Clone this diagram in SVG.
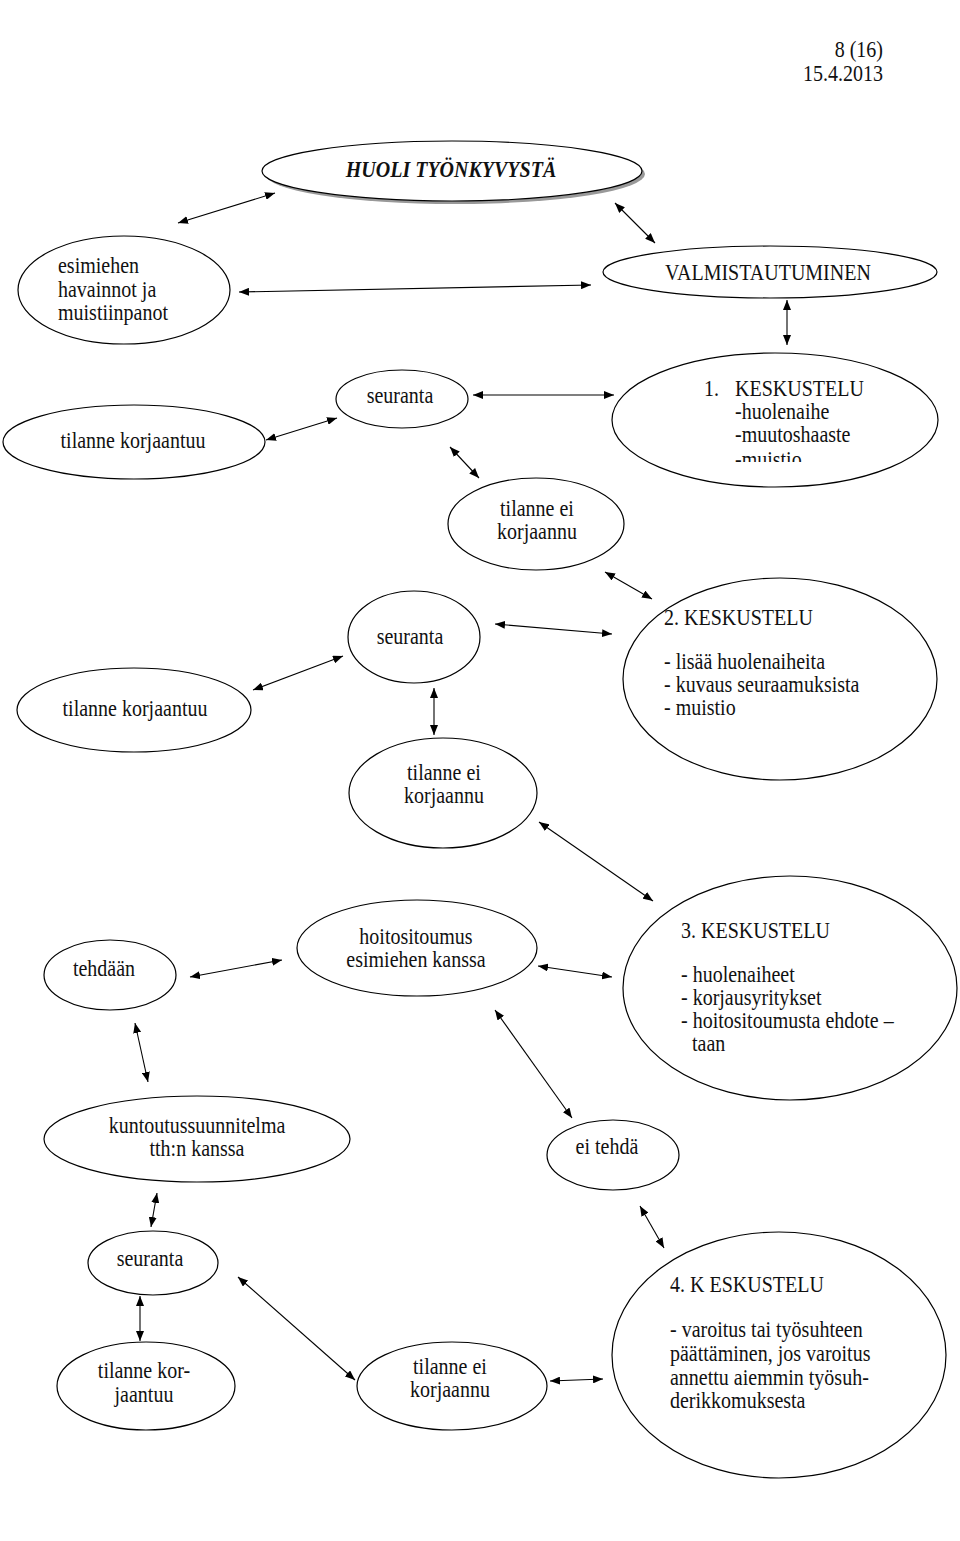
<svg xmlns="http://www.w3.org/2000/svg" width="960" height="1541" viewBox="0 0 960 1541">
<defs>
<style>
.n{fill:#fff;stroke:#000;stroke-width:1.2}
.t{font-family:"Liberation Serif","Times New Roman",serif;font-size:20px;fill:#111}
.c{text-anchor:middle}
.e{stroke:#000;stroke-width:1.1;fill:none;marker-start:url(#ah);marker-end:url(#ah)}
</style>
<marker id="ah" viewBox="0 0 10 8" refX="10" refY="4" markerWidth="10" markerHeight="8" markerUnits="userSpaceOnUse" orient="auto-start-reverse">
<path d="M0,0 L10,4 L0,8 z" fill="#000"/>
</marker>
<clipPath id="clip1"><rect x="600" y="304" width="340" height="97.7"/></clipPath>
</defs>
<rect width="960" height="1541" fill="#fff"/>
<g id="header">
<g transform="scale(1,1.15)">
<text class="t" x="883" y="49.57" text-anchor="end">8 (16)</text>
<text class="t" x="883" y="70.43" text-anchor="end">15.4.2013</text>
</g>
</g>
<g id="connectors">
<line class="e" x1="178" y1="223" x2="275" y2="193"/>
<line class="e" x1="615" y1="203" x2="655" y2="243"/>
<line class="e" x1="239" y1="292" x2="591" y2="285"/>
<line class="e" x1="787" y1="300" x2="787" y2="345"/>
<line class="e" x1="266" y1="440" x2="337" y2="418"/>
<line class="e" x1="473" y1="395" x2="614" y2="395"/>
<line class="e" x1="450" y1="447" x2="479" y2="478"/>
<line class="e" x1="605" y1="572" x2="652" y2="599"/>
<line class="e" x1="495" y1="624" x2="612" y2="634"/>
<line class="e" x1="253" y1="690" x2="343" y2="656"/>
<line class="e" x1="434" y1="688" x2="434" y2="735"/>
<line class="e" x1="539" y1="822" x2="653" y2="901"/>
<line class="e" x1="190" y1="977" x2="282" y2="960"/>
<line class="e" x1="538" y1="966" x2="612" y2="977"/>
<line class="e" x1="135" y1="1023" x2="148" y2="1082"/>
<line class="e" x1="495" y1="1010" x2="572" y2="1118"/>
<line class="e" x1="157" y1="1193" x2="151" y2="1227"/>
<line class="e" x1="640" y1="1206" x2="664" y2="1248"/>
<line class="e" x1="140" y1="1296" x2="140" y2="1341"/>
<line class="e" x1="238" y1="1277" x2="355" y2="1380"/>
<line class="e" x1="550" y1="1381" x2="603" y2="1379"/>
</g>
<g id="n-title">
<ellipse cx="455" cy="174" rx="190" ry="30" fill="#999"/>
<ellipse class="n" cx="452" cy="171" rx="190" ry="30"/>
<g transform="scale(1,1.15)"><text class="t c" x="451" y="153.91" font-weight="bold" font-style="italic">HUOLI TYÖNKYVYSTÄ</text></g>
</g>
<g id="n-esimiehen">
<ellipse class="n" cx="124" cy="290" rx="106" ry="54"/>
<g transform="scale(1,1.15)">
<text class="t" x="58" y="237.39">esimiehen</text>
<text class="t" x="58" y="258.26">havainnot ja</text>
<text class="t" x="58" y="278.26">muistiinpanot</text>
</g>
</g>
<g id="n-valmistautuminen">
<ellipse class="n" cx="770" cy="272" rx="167" ry="26"/>
<g transform="scale(1,1.15)"><text class="t c" x="768" y="243.48">VALMISTAUTUMINEN</text></g>
</g>
<g id="n-korj1">
<ellipse class="n" cx="134" cy="442" rx="131" ry="37"/>
<g transform="scale(1,1.15)"><text class="t c" x="133" y="389.57">tilanne korjaantuu</text></g>
</g>
<g id="n-seur1">
<ellipse class="n" cx="402" cy="399" rx="66" ry="29"/>
<g transform="scale(1,1.15)"><text class="t c" x="400" y="350.43">seuranta</text></g>
</g>
<g id="n-kesk1">
<ellipse class="n" cx="775" cy="420" rx="163" ry="67"/>
<g transform="scale(1,1.15)">
<text class="t" x="704" y="344.35">1.</text>
<text class="t" x="735" y="344.35">KESKUSTELU</text>
<text class="t" x="735" y="364.35">-huolenaihe</text>
<text class="t" x="735" y="384.35">-muutoshaaste</text>
<text class="t" x="735" y="406.09" clip-path="url(#clip1)">-muistio</text>
</g>
</g>
<g id="n-eikorj1">
<ellipse class="n" cx="536" cy="524" rx="88" ry="46"/>
<g transform="scale(1,1.15)">
<text class="t c" x="537" y="448.70">tilanne ei</text>
<text class="t c" x="537" y="468.70">korjaannu</text>
</g>
</g>
<g id="n-kesk2">
<ellipse class="n" cx="780" cy="679" rx="157" ry="101"/>
<g transform="scale(1,1.15)">
<text class="t" x="664" y="543.48">2. KESKUSTELU</text>
<text class="t" x="664" y="581.74">- lisää huolenaiheita</text>
<text class="t" x="664" y="601.74">- kuvaus seuraamuksista</text>
<text class="t" x="664" y="621.74">- muistio</text>
</g>
</g>
<g id="n-seur2">
<ellipse class="n" cx="414" cy="637" rx="66" ry="46"/>
<g transform="scale(1,1.15)"><text class="t c" x="410" y="560">seuranta</text></g>
</g>
<g id="n-korj2">
<ellipse class="n" cx="134" cy="710" rx="117" ry="42"/>
<g transform="scale(1,1.15)"><text class="t c" x="135" y="622.61">tilanne korjaantuu</text></g>
</g>
<g id="n-eikorj2">
<ellipse class="n" cx="443" cy="793" rx="94" ry="55"/>
<g transform="scale(1,1.15)">
<text class="t c" x="444" y="678.26">tilanne ei</text>
<text class="t c" x="444" y="698.26">korjaannu</text>
</g>
</g>
<g id="n-kesk3">
<ellipse class="n" cx="790" cy="988" rx="167" ry="112"/>
<g transform="scale(1,1.15)">
<text class="t" x="681" y="815.65">3. KESKUSTELU</text>
<text class="t" x="681" y="853.91">- huolenaiheet</text>
<text class="t" x="681" y="873.91">- korjausyritykset</text>
<text class="t" x="681" y="893.91">- hoitositoumusta ehdote –</text>
<text class="t" x="692" y="913.91">taan</text>
</g>
</g>
<g id="n-tehdaan">
<ellipse class="n" cx="110" cy="975" rx="66" ry="35"/>
<g transform="scale(1,1.15)"><text class="t c" x="104" y="848.70">tehdään</text></g>
</g>
<g id="n-hoito">
<ellipse class="n" cx="417" cy="948" rx="120" ry="48"/>
<g transform="scale(1,1.15)">
<text class="t c" x="416" y="820.87">hoitositoumus</text>
<text class="t c" x="416" y="840.87">esimiehen kanssa</text>
</g>
</g>
<g id="n-kuntoutus">
<ellipse class="n" cx="197" cy="1139" rx="153" ry="43"/>
<g transform="scale(1,1.15)">
<text class="t c" x="197" y="985.22">kuntoutussuunnitelma</text>
<text class="t c" x="197" y="1005.22">tth:n kanssa</text>
</g>
</g>
<g id="n-eitehda">
<ellipse class="n" cx="613" cy="1155" rx="66" ry="35"/>
<g transform="scale(1,1.15)"><text class="t c" x="607" y="1003.48">ei tehdä</text></g>
</g>
<g id="n-seur3">
<ellipse class="n" cx="153" cy="1263" rx="65" ry="32"/>
<g transform="scale(1,1.15)"><text class="t c" x="150" y="1100.87">seuranta</text></g>
</g>
<g id="n-korj3">
<ellipse class="n" cx="146" cy="1386" rx="89" ry="44"/>
<g transform="scale(1,1.15)">
<text class="t c" x="144" y="1198.26">tilanne kor-</text>
<text class="t c" x="144" y="1219.13">jaantuu</text>
</g>
</g>
<g id="n-eikorj3">
<ellipse class="n" cx="452" cy="1386" rx="95" ry="44"/>
<g transform="scale(1,1.15)">
<text class="t c" x="450" y="1194.78">tilanne ei</text>
<text class="t c" x="450" y="1214.78">korjaannu</text>
</g>
</g>
<g id="n-kesk4">
<ellipse class="n" cx="779" cy="1355" rx="167" ry="123"/>
<g transform="scale(1,1.15)">
<text class="t" x="670" y="1123.48">4. K ESKUSTELU</text>
<text class="t" x="670" y="1162.61">- varoitus tai työsuhteen</text>
<text class="t" x="670" y="1183.48">päättäminen, jos varoitus</text>
<text class="t" x="670" y="1204.35">annettu aiemmin työsuh-</text>
<text class="t" x="670" y="1224.35">derikkomuksesta</text>
</g>
</g>
</svg>
